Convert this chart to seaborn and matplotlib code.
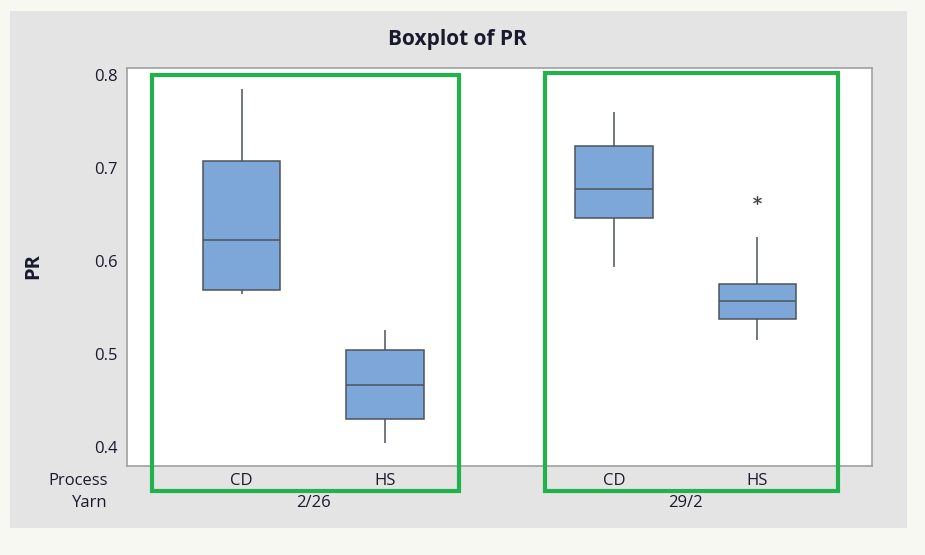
import matplotlib
matplotlib.use('Agg')
import matplotlib.pyplot as plt
import pandas as pd
import seaborn as sns
from matplotlib.patches import Rectangle

# values (min, Q1, median, Q3, max per group; HS 29/2 has one outlier)
process = ['CD', 'HS', 'CD', 'HS']
yarn = ['2/26', '2/26', '29/2', '29/2']
positions = [0.0, 1.0, 2.6, 3.6]
pr_cd_226 = [0.564, 0.569, 0.623, 0.707, 0.785]
pr_hs_226 = [0.404, 0.430, 0.467, 0.504, 0.526]
pr_cd_292 = [0.594, 0.646, 0.677, 0.724, 0.760]
pr_hs_292 = [0.515, 0.538, 0.538, 0.557, 0.557, 0.575, 0.575, 0.626, 0.666]
y_ticks = [0.4, 0.5, 0.6, 0.7, 0.8]

rows = []
for pos, vals in zip(positions, [pr_cd_226, pr_hs_226, pr_cd_292, pr_hs_292]):
    for v in vals:
        rows.append({'pos': pos, 'PR': v})
df = pd.DataFrame(rows)

sns.set_theme(style='white')
plt.rcParams['font.family'] = ['Open Sans', 'DejaVu Sans']
TXT = '#1a1a2e'

W, H = 925, 555
fig = plt.figure(figsize=(W / 100, H / 100), dpi=100, facecolor='#f7f8f2')
# grey Minitab panel
fig.add_artist(Rectangle((10 / W, 1 - 528 / H), 897 / W, 517 / H, transform=fig.transFigure,
                         facecolor='#e4e4e4', edgecolor='none', zorder=0))

ax = fig.add_axes([127 / W, 1 - 466 / H, 745 / W, 398 / H])
ax.set_facecolor('white')

sns.boxplot(data=df, x='pos', y='PR', native_scale=True, width=0.54, color='#7da7d9',
            saturation=1, linecolor='#4d535c', linewidth=1.1, whis=1.5, showcaps=False,
            flierprops={'marker': '$*$', 'markersize': 6, 'markerfacecolor': '#404040',
                        'markeredgecolor': '#404040', 'markeredgewidth': 0.3},
            ax=ax)

ax.set_xlim(-0.8, 4.4)
ax.set_ylim(0.37957, 0.80753)
ax.set_yticks(y_ticks)
ax.set_yticklabels([f'{t:.1f}' for t in y_ticks], fontsize=12, color=TXT)
ax.set_xticks(positions)
ax.set_xticklabels(process, fontsize=12, color=TXT)
ax.tick_params(axis='both', length=4, width=0.8, color='#a0a0a0', pad=3, direction='out')
ax.tick_params(axis='x', pad=1)
for s in ax.spines.values():
    s.set_color('#a0a0a0')
    s.set_linewidth(1.2)
ax.set_xlabel('')
ax.set_ylabel('')

# yarn group labels and row captions
xt = ax.get_xaxis_transform()
ax.text((positions[0] + positions[1]) / 2, -0.093, yarn[0], transform=xt, ha='center', va='center',
        fontsize=12, color=TXT)
ax.text((positions[2] + positions[3]) / 2, -0.093, yarn[2], transform=xt, ha='center', va='center',
        fontsize=12, color=TXT)
fig.text(108 / W, 1 - 481 / H, 'Process', ha='right', va='center', fontsize=12, color=TXT)
fig.text(108 / W, 1 - 503 / H, 'Yarn', ha='right', va='center', fontsize=12, color=TXT)

fig.text(457 / W, 1 - 40 / H, 'Boxplot of PR', ha='center', va='center', fontsize=15,
         fontweight='bold', color=TXT)
fig.text(33 / W, 1 - 266 / H, 'PR', ha='center', va='center', rotation=90, fontsize=14.5,
         fontweight='bold', color=TXT)

# green highlight frames
for x0, y0, x1, y1 in [(152, 75, 459, 491), (545, 73, 838, 491)]:
    fig.add_artist(Rectangle((x0 / W, 1 - y1 / H), (x1 - x0) / W, (y1 - y0) / H,
                             transform=fig.transFigure, fill=False, edgecolor='#22b24c',
                             linewidth=3, zorder=10))

fig.savefig('out.png', dpi=100, facecolor=fig.get_facecolor())
